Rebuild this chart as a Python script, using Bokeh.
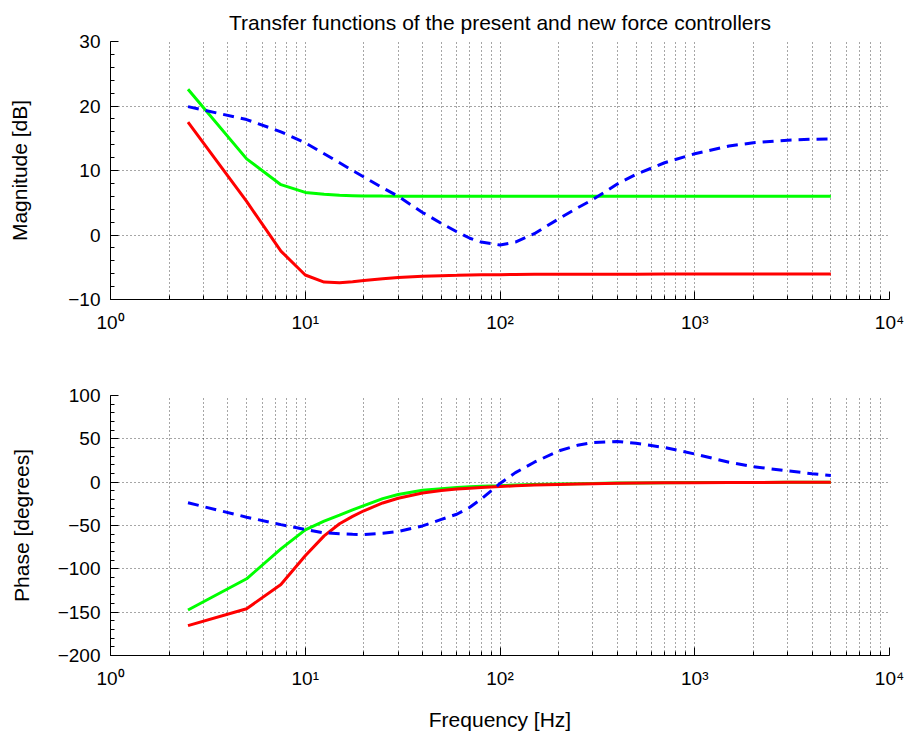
from bokeh.plotting import figure
from bokeh.layouts import column
from bokeh.models import Range1d, FixedTicker
from bokeh.embed import file_html
from bokeh.resources import INLINE

# ---- data ----
freq = [2.5, 5, 7.5, 10, 12.5, 15, 17.5, 20, 25, 30, 40, 50, 60, 70, 80, 100, 120, 150,
        200, 250, 300, 400, 500, 700, 1000, 1500, 2000, 3000, 4000, 5000]

mag_blue = [19.9, 17.9, 16.0, 14.3, 12.6, 11.2, 10.0, 9.0, 7.3, 6.0, 3.5, 1.8, 0.5, -0.5, -1.1,
            -1.55, -1.1, 0.2, 2.5, 4.2, 5.5, 7.9, 9.4, 11.2, 12.6, 13.8, 14.3, 14.7, 14.85, 14.9]
mag_green = [22.6, 11.8, 7.8, 6.6, 6.3, 6.15, 6.1, 6.05, 6.03, 6.02, 6.02, 6.02, 6.02, 6.02, 6.02,
             6.02, 6.02, 6.02, 6.02, 6.02, 6.02, 6.02, 6.02, 6.02, 6.02, 6.02, 6.02, 6.02, 6.02, 6.02]
mag_red = [17.5, 5.2, -2.5, -6.2, -7.3, -7.4, -7.25, -7.05, -6.8, -6.6, -6.4, -6.3, -6.25, -6.2,
           -6.17, -6.15, -6.12, -6.1, -6.1, -6.08, -6.08, -6.07, -6.07, -6.06, -6.06, -6.05, -6.05,
           -6.05, -6.05, -6.05]

ph_blue = [-23.8, -40.4, -49, -54.5, -58.5, -59.5, -60.2, -60.4, -59, -57, -50.5, -43, -37, -29,
           -19.5, -1.5, 11, 23, 36, 42.5, 45.8, 47, 44.8, 40, 32.5, 23, 17.8, 13, 9.8, 7.7]
ph_green = [-147.5, -111.5, -77, -55, -45, -38, -32, -27, -19, -14.3, -9.3, -7.5, -6.2, -5.3, -4.7,
            -4.0, -3.3, -2.7, -2.1, -1.7, -1.4, -1.1, -0.9, -0.7, -0.5, -0.35, -0.27, -0.18,
            -0.14, -0.11]
ph_red = [-165.5, -146, -118, -85, -62, -48, -39.5, -33, -24, -18.5, -12.5, -9.5, -7.9, -6.9, -6.1,
          -5.0, -4.2, -3.4, -2.6, -2.1, -1.75, -1.3, -1.05, -0.75, -0.53, -0.36, -0.27, -0.18,
          -0.13, -0.11]

x_major = [1, 10, 100, 1000, 10000]
x_labels = {1: "10⁰", 10: "10¹", 100: "10²", 1000: "10³", 10000: "10⁴"}
x_minor = [m * d for d in [1, 10, 100, 1000] for m in range(2, 10)]

mag_ticks = [-10, 0, 10, 20, 30]
mag_minor = list(range(-10, 31, 2))
ph_ticks = [-200, -150, -100, -50, 0, 50, 100]
ph_minor = list(range(-200, 101, 10))

title_text = "Transfer functions of the present and new force controllers"
FONT = "Liberation Sans"


def style(p, yticks, yminor):
    p.outline_line_color = None
    p.background_fill_color = "white"
    p.border_fill_color = "white"
    for ax in (p.xaxis[0], p.yaxis[0]):
        ax.axis_line_color = "black"
        ax.major_tick_line_color = "black"
        ax.minor_tick_line_color = "black"
        ax.major_tick_in = 8
        ax.major_tick_out = 0
        ax.minor_tick_in = 4
        ax.minor_tick_out = 0
        ax.major_label_text_font = FONT
        ax.major_label_text_font_size = "19px"
        ax.major_label_text_color = "black"
        ax.axis_label_text_font = FONT
        ax.axis_label_text_font_size = "21px"
        ax.axis_label_text_font_style = "normal"
        ax.axis_label_text_color = "black"
    p.xaxis[0].ticker = FixedTicker(ticks=x_major, minor_ticks=x_minor)
    p.xaxis[0].major_label_overrides = x_labels
    p.xaxis[0].major_label_standoff = 12
    p.yaxis[0].ticker = FixedTicker(ticks=yticks, minor_ticks=yminor)
    p.yaxis[0].major_label_overrides = {t: ("−" + str(-t) if t < 0 else str(t)) for t in yticks}
    p.yaxis[0].major_label_standoff = 10
    for g in (p.xgrid[0], p.ygrid[0]):
        g.grid_line_color = "black"
        g.grid_line_dash = "1 3"
        g.grid_line_alpha = 0.7
        g.grid_line_width = 1
    p.xgrid[0].minor_grid_line_color = "black"
    p.xgrid[0].minor_grid_line_dash = "1 3"
    p.xgrid[0].minor_grid_line_alpha = 0.7


p1 = figure(width=906, height=345, x_axis_type="log",
            x_range=Range1d(1, 10000), y_range=Range1d(-10, 30),
            output_backend="svg", toolbar_location=None,
            min_border_left=110, min_border_right=17, min_border_top=41, min_border_bottom=46,
            title=title_text)
p1.title.text_font = FONT
p1.title.text_font_size = "21px"
p1.title.text_font_style = "normal"
p1.title.align = "center"
p1.title.text_color = "black"
p1.title.standoff = 16
style(p1, mag_ticks, mag_minor)
p1.yaxis[0].axis_label = "Magnitude [dB]"
p1.yaxis[0].axis_label_standoff = 34

p1.line(freq, mag_green, line_color="#00FF00", line_width=3)
p1.line(freq, mag_red, line_color="#FF0000", line_width=3)
p1.line(freq, mag_blue, line_color="#0000FF", line_width=3, line_dash="11 7")

p2 = figure(width=906, height=392, x_axis_type="log",
            x_range=Range1d(1, 10000), y_range=Range1d(-200, 100),
            output_backend="svg", toolbar_location=None,
            min_border_left=110, min_border_right=17, min_border_top=50, min_border_bottom=82)
style(p2, ph_ticks, ph_minor)
p2.yaxis[0].axis_label = "Phase [degrees]"
p2.yaxis[0].axis_label_standoff = 22
p2.xaxis[0].axis_label = "Frequency [Hz]"
p2.xaxis[0].axis_label_standoff = 16

p2.line(freq, ph_green, line_color="#00FF00", line_width=3)
p2.line(freq, ph_red, line_color="#FF0000", line_width=3)
p2.line(freq, ph_blue, line_color="#0000FF", line_width=3, line_dash="11 7")

layout = column(p1, p2, spacing=0)
open("out.html", "w").write(file_html(layout, INLINE))
